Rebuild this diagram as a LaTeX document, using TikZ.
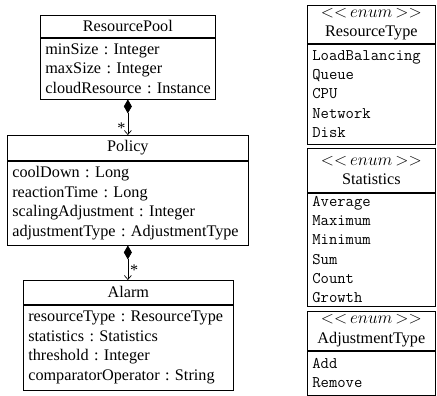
\documentclass[tikz,border=0pt]{standalone}
\usepackage{fontspec}
\setmainfont{Liberation Serif}
\usetikzlibrary{arrows.meta}
\frenchspacing
\newcommand{\enumst}{${<}{<}\,enum\,{>}{>}$}
\begin{document}
\begin{tikzpicture}[x=1pt,y=-1pt, font=\fontsize{16.2}{19.5}\selectfont\frenchspacing,
  box/.style={draw, line width=0.7pt, anchor=north west, inner sep=0pt},
  hdr/.style={box, align=center},
  body/.style={box, align=left, inner xsep=5pt},
  tbody/.style={body, font=\fontsize{16.2}{19.2}\selectfont\ttfamily},
  comp/.style={{Diamond[length=14pt,width=8pt]}-{Straight Barb[length=4pt,width=7pt]}, line width=0.7pt},
  mult/.style={inner sep=2pt}
]
\useasboundingbox (0,0) rectangle (437,396);

% ResourcePool
\node[hdr, minimum width=175, minimum height=22] (rph) at (40,15) {ResourcePool};
\node[body, minimum width=175, text width=165, minimum height=61] (rpb) at (rph.south west)
  {\mbox{minSize : Integer}\\\mbox{maxSize : Integer}\\\mbox{cloudResource : Instance}};

% Policy
\node[hdr, minimum width=241, minimum height=25] (poh) at (7,135) {Policy};
\node[body, minimum width=241, text width=231, minimum height=84] (pob) at (poh.south west)
  {\mbox{coolDown : Long}\\\mbox{reactionTime : Long}\\\mbox{scalingAdjustment : Integer}\\\mbox{adjustmentType : AdjustmentType}};

% Alarm
\node[hdr, minimum width=210, minimum height=24] (alh) at (23,280) {Alarm};
\node[body, minimum width=210, text width=200, minimum height=85] (alb) at (alh.south west)
  {\mbox{resourceType : ResourceType}\\\mbox{statistics : Statistics}\\\mbox{threshold : Integer}\\\mbox{comparatorOperator : String}};

% ResourceType enum
\node[hdr, minimum width=128, minimum height=38] (rth) at (307,5) {\enumst\\ResourceType};
\node[tbody, minimum width=128, text width=118, minimum height=100] (rtb) at (rth.south west)
  {LoadBalancing\\Queue\\CPU\\Network\\Disk};

% Statistics enum
\node[hdr, minimum width=128, minimum height=44] (sth) at (307,148) {\enumst\\Statistics};
\node[tbody, minimum width=128, text width=118, minimum height=113] (stb) at (sth.south west)
  {Average\\Maximum\\Minimum\\Sum\\Count\\Growth};

% AdjustmentType enum
\node[hdr, minimum width=128, minimum height=39] (ath) at (307,311) {\enumst\\AdjustmentType};
\node[tbody, minimum width=128, text width=118, minimum height=44] (atb) at (ath.south west)
  {Add\\Remove};

% Connectors
\draw[comp] (rpb.south) -- (rpb.south |- poh.north) node[mult, pos=0.82, left] {*};
\draw[comp] (pob.south) -- (pob.south |- alh.north) node[mult, pos=0.72, right] {*};
\end{tikzpicture}
\end{document}
